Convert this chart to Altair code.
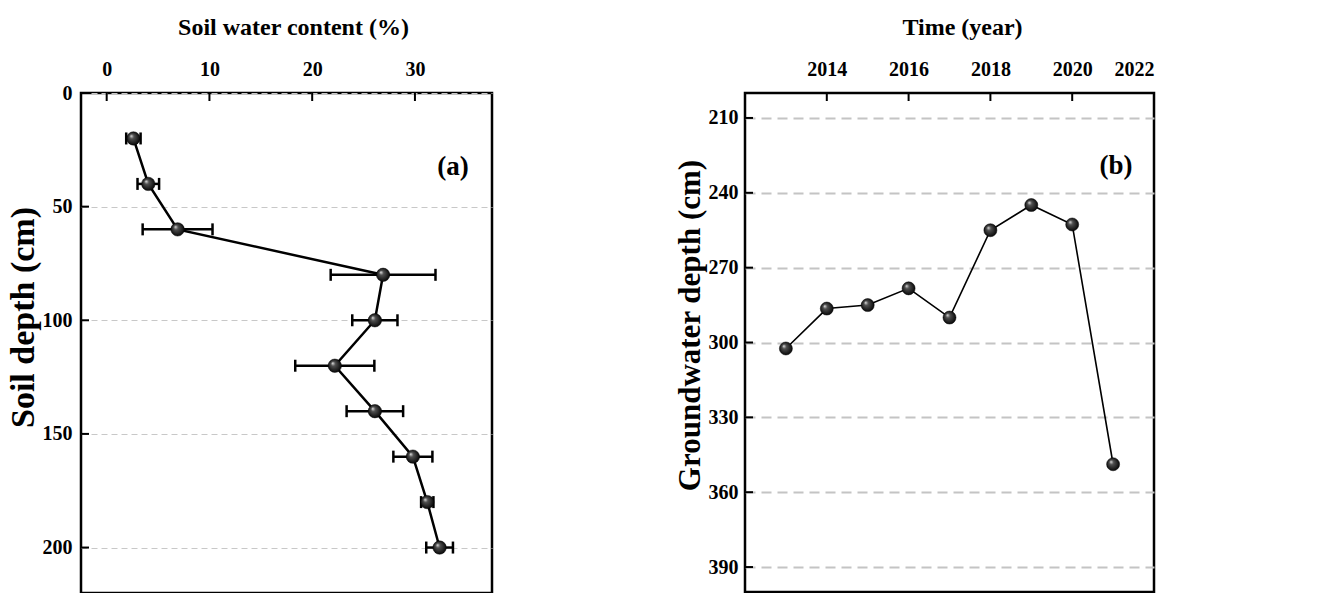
import altair as alt
import pandas as pd

# ---------------- data ----------------
depth = [20, 40, 60, 80, 100, 120, 140, 160, 180, 200]
swc = [2.6, 4.05, 6.9, 26.9, 26.1, 22.2, 26.1, 29.8, 31.2, 32.4]
swc_err = [0.7, 1.05, 3.4, 5.1, 2.2, 3.85, 2.75, 1.9, 0.6, 1.3]

years = [2013, 2014, 2015, 2016, 2017, 2018, 2019, 2020, 2021]
gwd = [302.4, 286.4, 285.0, 278.3, 290.0, 255.0, 244.9, 252.7, 348.8]

x_ticks_a = [0, 10, 20, 30]
y_ticks_a = [0, 50, 100, 150, 200]
x_ticks_b = [2014, 2016, 2018, 2020, 2022]
y_ticks_b = [210, 240, 270, 300, 330, 360, 390]

df_a = pd.DataFrame({"depth": depth, "swc": swc, "err": swc_err})
df_a["lo"] = df_a["swc"] - df_a["err"]
df_a["hi"] = df_a["swc"] + df_a["err"]
df_b = pd.DataFrame({"year": years, "gwd": gwd})

FONT = "Liberation Serif"
TICK_LEN = 16  # centred on the frame and clipped, so half of it shows inside

sphere = alt.RadialGradient(
    gradient="radial",
    stops=[
        alt.GradientStop(offset=0, color="#e8e8e8"),
        alt.GradientStop(offset=0.3, color="#505050"),
        alt.GradientStop(offset=1, color="#000000"),
    ],
    x1=0.33, y1=0.3, r1=0, x2=0.5, y2=0.5, r2=0.55,
)

def label_axis(orient, values, title, title_size, title_x=None, title_y=None,
               grid=False, grid_dash=None, grid_width=1, grid_color="#c8c8c8",
               label_pad=12, title_pad=10, fmt=None):
    kw = dict(
        orient=orient, values=values, title=title, tickSize=0, domain=False,
        labelFont=FONT, labelFontWeight="bold", labelFontSize=20, labelColor="black",
        titleFont=FONT, titleFontWeight="bold", titleFontSize=title_size, titleColor="black",
        labelPadding=label_pad, titlePadding=title_pad, grid=grid,
    )
    if title_x is not None:
        kw["titleX"] = title_x
    if title_y is not None:
        kw["titleY"] = title_y
    if grid:
        kw["gridDash"] = grid_dash
        kw["gridWidth"] = grid_width
        kw["gridColor"] = grid_color
    if fmt is not None:
        kw["format"] = fmt
    return alt.Axis(**kw)

def inward_ticks(xvals, yvals, xs, ys, ax, ay):
    tx = alt.Chart(pd.DataFrame({"tv": xvals})).mark_tick(
        orient="vertical", size=TICK_LEN, thickness=2, color="black", opacity=1, clip=True).encode(
        x=alt.X("tv:Q", scale=xs, axis=ax), y=alt.value(0))
    ty = alt.Chart(pd.DataFrame({"tw": yvals})).mark_tick(
        orient="horizontal", size=TICK_LEN, thickness=2, color="black", opacity=1, clip=True).encode(
        y=alt.Y("tw:Q", scale=ys, axis=ay), x=alt.value(0))
    return tx, ty

# ---------------- panel (a) ----------------
xs_a = alt.Scale(domain=[-2.5, 37.5], nice=False, zero=False)
ys_a = alt.Scale(domain=[0, 220], reverse=True, nice=False)
ax_a = label_axis("top", x_ticks_a, "Soil water content (%)", 24, title_x=212,
                  label_pad=14, title_pad=20)
ay_a = label_axis("left", y_ticks_a, "Soil depth (cm)", 34, title_y=224, grid=True,
                  grid_dash=[6, 4], grid_width=1, label_pad=9, title_pad=2)

rules_a = alt.Chart(df_a).mark_rule(color="black", strokeWidth=2.5).encode(
    x=alt.X("lo:Q", scale=xs_a, axis=ax_a),
    x2="hi:Q",
    y=alt.Y("depth:Q", scale=ys_a, axis=ay_a),
)
cap_lo = alt.Chart(df_a).mark_tick(orient="vertical", size=12, thickness=2.5, color="black", opacity=1).encode(
    x=alt.X("lo:Q", scale=xs_a, axis=ax_a), y=alt.Y("depth:Q", scale=ys_a, axis=ay_a))
cap_hi = alt.Chart(df_a).mark_tick(orient="vertical", size=12, thickness=2.5, color="black", opacity=1).encode(
    x=alt.X("hi:Q", scale=xs_a, axis=ax_a), y=alt.Y("depth:Q", scale=ys_a, axis=ay_a))
line_a = alt.Chart(df_a).mark_line(color="black", strokeWidth=2.5).encode(
    x=alt.X("swc:Q", scale=xs_a, axis=ax_a),
    y=alt.Y("depth:Q", scale=ys_a, axis=ay_a),
    order="depth:Q",
)
pts_a = alt.Chart(df_a).mark_circle(size=180, opacity=1, fill=sphere, stroke="black", strokeWidth=0.5).encode(
    x=alt.X("swc:Q", scale=xs_a, axis=ax_a), y=alt.Y("depth:Q", scale=ys_a, axis=ay_a))
lab_a = alt.Chart(pd.DataFrame({"t": ["(a)"]})).mark_text(
    font=FONT, fontWeight="bold", fontSize=27, color="black", align="center", baseline="middle"
).encode(text="t:N", x=alt.value(372), y=alt.value(74))
tx_a, ty_a = inward_ticks(x_ticks_a, y_ticks_a, xs_a, ys_a, ax_a, ay_a)

panel_a = alt.layer(rules_a, cap_lo, cap_hi, line_a, pts_a, lab_a, tx_a, ty_a).properties(
    width=411, height=500)

# ---------------- panel (b) ----------------
xs_b = alt.Scale(domain=[2012, 2022], nice=False, zero=False)
ys_b = alt.Scale(domain=[200, 400], reverse=True, nice=False, zero=False)
ax_b = label_axis("top", x_ticks_b, "Time (year)", 24, title_x=217,
                  label_pad=14, title_pad=20, fmt="d")
ay_b = label_axis("left", y_ticks_b, "Groundwater depth (cm)", 31, title_y=232, grid=True,
                  grid_dash=[10, 6], grid_width=2, grid_color="#c4c4c4",
                  label_pad=7, title_pad=2)

line_b = alt.Chart(df_b).mark_line(color="black", strokeWidth=1.6).encode(
    x=alt.X("year:Q", scale=xs_b, axis=ax_b),
    y=alt.Y("gwd:Q", scale=ys_b, axis=ay_b),
)
pts_b = alt.Chart(df_b).mark_circle(size=170, opacity=1, fill=sphere, stroke="black", strokeWidth=0.5).encode(
    x=alt.X("year:Q", scale=xs_b, axis=ax_b), y=alt.Y("gwd:Q", scale=ys_b, axis=ay_b))
lab_b = alt.Chart(pd.DataFrame({"t": ["(b)"]})).mark_text(
    font=FONT, fontWeight="bold", fontSize=27, color="black", align="center", baseline="middle"
).encode(text="t:N", x=alt.value(371), y=alt.value(73))
tx_b, ty_b = inward_ticks(x_ticks_b, y_ticks_b, xs_b, ys_b, ax_b, ay_b)

panel_b = alt.layer(line_b, pts_b, lab_b, tx_b, ty_b).properties(width=409, height=499)

chart = alt.hconcat(panel_a, panel_b, spacing=178).properties(
    padding={"left": 4, "top": 13, "right": 5, "bottom": 1},
    background="white",
).configure_view(stroke="black", strokeWidth=2.5)

chart.save("out.html", embed_options={"renderer": "svg", "actions": False})
